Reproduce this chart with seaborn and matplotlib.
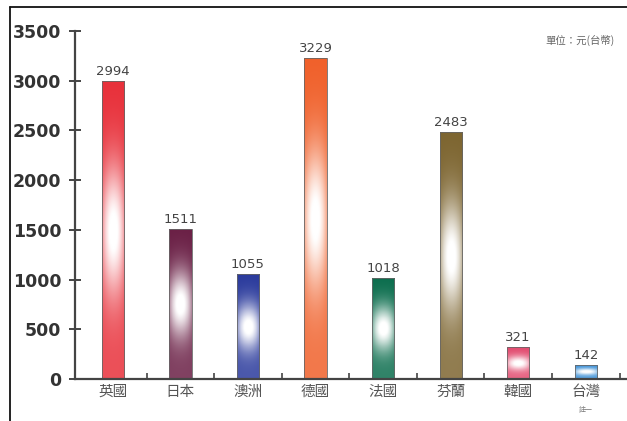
import numpy as np
import pandas as pd
import matplotlib
matplotlib.use('Agg')
import matplotlib.pyplot as plt
from matplotlib.colors import to_rgb
from matplotlib.lines import Line2D
from matplotlib.ticker import FixedLocator
import seaborn as sns

# ── DATA ─────────────────────────────────────────────────────────────────────
countries = ['英國', '日本', '澳洲', '德國', '法國', '芬蘭', '韓國', '台灣']
costs = [2994, 1511, 1055, 3229, 1018, 2483, 321, 142]
bar_colors = ['#e8303a', '#6a1f45', '#2a3a9c', '#f0602a',
              '#0b6d4d', '#7d6530', '#e24b6f', '#3a8fd6']
y_ticks = [0, 500, 1000, 1500, 2000, 2500, 3000, 3500]
unit_text = '單位：元(台幣)'
note_text = '註一'

sns.set_style('white')
plt.rcParams['font.family'] = ['Noto Sans CJK TC', 'DejaVu Sans']

df = pd.DataFrame({'country': countries, 'cost': costs})

fig = plt.figure(figsize=(6.27, 4.21), dpi=100)
ax = fig.add_axes([0.1196, 0.0998, 1 - 0.1196, 0.8265])

sns.barplot(data=df, x='country', y='cost', hue='country', palette=bar_colors,
            width=0.33, legend=False, ax=ax, edgecolor='#666666', linewidth=0.6)

# glow gradient inside each bar
ny, nx = 120, 30
ty = np.linspace(0, 1, ny)[:, None]
tx = np.linspace(0, 1, nx)[None, :]
glow = np.exp(-((ty - 0.5) / 0.22) ** 2) * (1 - 0.6 * ((tx - 0.5) / 0.5) ** 2)
glow = glow + 0.15 * (1 - ty)  # slightly lighter toward the bottom
glow = np.clip(glow, 0, 1)
for patch, col in zip(ax.patches, bar_colors):
    x0 = patch.get_x()
    w = patch.get_width()
    h = patch.get_height()
    base = np.array(to_rgb(col))
    img = base[None, None, :] * (1 - glow[..., None]) + glow[..., None]
    im = ax.imshow(img, extent=[x0, x0 + w, 0, h], origin='lower',
                   aspect='auto', zorder=patch.get_zorder() + 0.1,
                   interpolation='bilinear')
    im.set_clip_path(patch)
    patch.set_facecolor('none')
    patch.set_zorder(patch.get_zorder() + 0.2)
    ax.text(x0 + w / 2, h + 30, f'{int(h)}', ha='center', va='bottom',
            fontsize=9.5, color='#444444', family=['DejaVu Sans'])

ax.set_xlim(-0.56, 7.61)
ax.set_ylim(0, 3500)
ax.set_yticks(y_ticks)
ax.set_yticklabels([str(v) for v in y_ticks], fontsize=12.5, fontweight='bold',
                   color='#333333', family=['DejaVu Sans'])
ax.tick_params(axis='y', direction='inout', length=8, width=1.4,
               color='#444444', pad=6, left=True)
ax.set_xticks(range(len(countries)))
ax.set_xticklabels(countries, fontsize=10.5, color='#555555')
ax.tick_params(axis='x', which='major', length=0, pad=4)
ax.xaxis.set_minor_locator(FixedLocator([i + 0.5 for i in range(len(countries))]))
ax.tick_params(axis='x', which='minor', direction='in', length=4, width=1.2,
               color='#444444', bottom=True)
ax.set_xlabel('')
ax.set_ylabel('')

for side in ['top', 'right']:
    ax.spines[side].set_visible(False)
for side in ['left', 'bottom']:
    ax.spines[side].set_color('#444444')
    ax.spines[side].set_linewidth(1.6)

ax.text(7, -310, note_text, ha='center', va='center', fontsize=5,
        color='#777777')
fig.text(0.98, 0.905, unit_text, ha='right', va='center', fontsize=7.5,
         color='#666666')

# frame lines of the original picture
fig.add_artist(Line2D([0.016, 0.016], [0, 0.983], color='#111111', lw=1.3))
fig.add_artist(Line2D([0.016, 1.0], [0.983, 0.983], color='#111111', lw=1.3))

fig.savefig('out.png', dpi=100)
